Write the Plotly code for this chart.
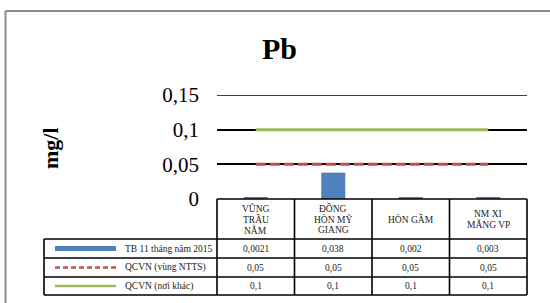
import plotly.graph_objects as go

W, H = 550, 303

categories = ["VŨNG\nTRẦU\nNẰM", "ĐỒNG\nHÒN MỸ\nGIANG", "HÒN GẦM", "NM XI\nMĂNG VP"]
series_names = ["TB 11 tháng năm 2015", "QCVN (vùng NTTS)", "QCVN (nơi khác)"]
tb_2015 = [0.0021, 0.038, 0.002, 0.003]
qcvn_ntts = [0.05, 0.05, 0.05, 0.05]
qcvn_khac = [0.1, 0.1, 0.1, 0.1]
tick_vals = [0, 0.05, 0.1, 0.15]
tick_text = ["0", "0,05", "0,1", "0,15"]
title_text = "Pb"
y_title = "mg/l"

BLUE = "#4F81BD"
RED = "#C0504D"
GREEN = "#9BBB59"
SERIF = "'Liberation Serif', 'Times New Roman', serif"


def px(x):
    return x / W


def py(y):
    return 1 - y / H


# layout geometry (pixels)
plot_l, plot_r = 217, 527
y0_px, ytop_px = 199, 95
tbl_left = 44
hdr_top, hdr_bot = 199, 239
row_edges = [239, 258, 277, 295]
col_edges = [217, 294.5, 372, 449.5, 527]

x_idx = list(range(len(categories)))

fig = go.Figure()
fig.add_trace(go.Bar(x=x_idx, y=tb_2015, marker=dict(color=BLUE, line=dict(width=0)),
                     width=0.31, name=series_names[0], showlegend=False))
fig.add_trace(go.Scatter(x=x_idx, y=qcvn_ntts, mode="lines",
                         line=dict(color=RED, width=3, dash="10px,4px"),
                         name=series_names[1], showlegend=False))
fig.add_trace(go.Scatter(x=x_idx, y=qcvn_khac, mode="lines",
                         line=dict(color=GREEN, width=3),
                         name=series_names[2], showlegend=False))

shapes = []
annotations = []

# outer chart border (gray)
shapes.append(dict(type="line", xref="paper", yref="paper", x0=px(5.5), x1=px(5.5),
                   y0=py(11), y1=py(303), line=dict(color="#8A8A8A", width=2)))
shapes.append(dict(type="line", xref="paper", yref="paper", x0=px(5.5), x1=px(550),
                   y0=py(11), y1=py(11), line=dict(color="#8A8A8A", width=2)))

# top gridline (at the axis edge, drawn explicitly)
shapes.append(dict(type="line", xref="paper", yref="y", x0=px(plot_l), x1=px(plot_r),
                   y0=tick_vals[-1], y1=tick_vals[-1], line=dict(color="black", width=1.6),
                   layer="below"))

tbl_line = dict(color="black", width=1.6)
shapes.append(dict(type="line", xref="paper", yref="paper", x0=px(plot_l), x1=px(plot_r),
                   y0=py(hdr_top), y1=py(hdr_top), line=tbl_line))
for ry in row_edges:
    shapes.append(dict(type="line", xref="paper", yref="paper", x0=px(tbl_left), x1=px(plot_r),
                       y0=py(ry), y1=py(ry), line=tbl_line))
shapes.append(dict(type="line", xref="paper", yref="paper", x0=px(tbl_left), x1=px(tbl_left),
                   y0=py(row_edges[0]), y1=py(row_edges[-1]), line=tbl_line))
for cx in col_edges:
    shapes.append(dict(type="line", xref="paper", yref="paper", x0=px(cx), x1=px(cx),
                       y0=py(hdr_top), y1=py(row_edges[-1]), line=tbl_line))

# header category labels
for i, cat in enumerate(categories):
    lines = cat.split("\n")
    cx = (col_edges[i] + col_edges[i + 1]) / 2
    cy = (hdr_top + hdr_bot) / 2
    n = len(lines)
    for j, ln in enumerate(lines):
        ly = cy + (j - (n - 1) / 2) * 10.5
        annotations.append(dict(x=px(cx), y=py(ly), xref="paper", yref="paper", text=ln,
                                showarrow=False, xanchor="center", yanchor="middle",
                                font=dict(family=SERIF, size=9.5, color="#222")))

# data rows
rows = [tb_2015, qcvn_ntts, qcvn_khac]
styles = [dict(color=BLUE, width=5), dict(color=RED, width=2.5, dash="5px,3px"),
          dict(color=GREEN, width=2.5)]
for r, (vals, name, st) in enumerate(zip(rows, series_names, styles)):
    cy = (row_edges[r] + row_edges[r + 1]) / 2
    shapes.append(dict(type="line", xref="paper", yref="paper", x0=px(55), x1=px(116),
                       y0=py(cy), y1=py(cy), line=st))
    annotations.append(dict(x=px(123), y=py(cy), xref="paper", yref="paper", text=name,
                            showarrow=False, xanchor="left", yanchor="middle",
                            font=dict(family=SERIF, size=9.5, color="#222")))
    for i, v in enumerate(vals):
        cx = (col_edges[i] + col_edges[i + 1]) / 2
        annotations.append(dict(x=px(cx), y=py(cy), xref="paper", yref="paper",
                                text=repr(v).replace(".", ","), showarrow=False,
                                xanchor="center", yanchor="middle",
                                font=dict(family=SERIF, size=9.5, color="#222")))

annotations.append(dict(x=px(279), y=py(49), xref="paper", yref="paper", text="<b>%s</b>" % title_text,
                        showarrow=False, xanchor="center", yanchor="middle",
                        font=dict(family=SERIF, size=30, color="black")))
annotations.append(dict(x=px(50), y=py(148), xref="paper", yref="paper", text="<b>%s</b>" % y_title,
                        showarrow=False, xanchor="center", yanchor="middle", textangle=-90,
                        font=dict(family=SERIF, size=22, color="black")))

fig.update_layout(
    width=W, height=H,
    margin=dict(l=0, r=0, t=0, b=0, autoexpand=False),
    paper_bgcolor="white", plot_bgcolor="white",
    showlegend=False,
    shapes=shapes, annotations=annotations,
    xaxis=dict(domain=[px(plot_l), px(plot_r)], range=[-0.5, 3.5], showticklabels=False,
               showgrid=False, zeroline=False, showline=False, ticks="", automargin=False),
    yaxis=dict(domain=[py(y0_px), py(ytop_px)], range=[0, 0.15], tickmode="array",
               tickvals=tick_vals, ticktext=tick_text, showgrid=True, gridcolor="black",
               gridwidth=1.6, zeroline=False, showline=False, ticks="",
               ticklabelstandoff=17, automargin=False,
               tickfont=dict(family=SERIF, size=21, color="black")),
)

fig.write_html("out.html", config={"displayModeBar": False},
               post_script="document.body.style.margin='0';document.body.style.overflow='hidden';")
